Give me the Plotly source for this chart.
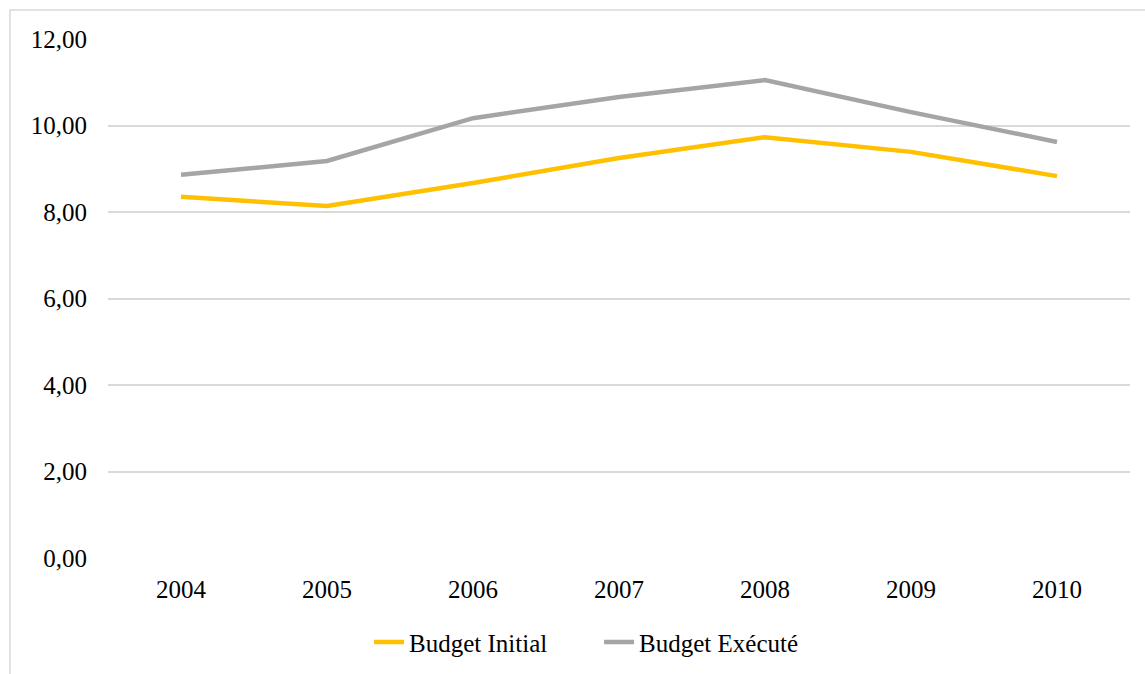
import plotly.graph_objects as go

years = ["2004", "2005", "2006", "2007", "2008", "2009", "2010"]
budget_initial = [8.35, 8.14, 8.67, 9.25, 9.73, 9.39, 8.83]
budget_execute = [8.86, 9.18, 10.17, 10.66, 11.05, 10.31, 9.62]

fig = go.Figure()
fig.add_trace(go.Scatter(x=years, y=budget_initial, mode="lines", name="Budget Initial",
                         line=dict(color="#ffc000", width=4.5)))
fig.add_trace(go.Scatter(x=years, y=budget_execute, mode="lines", name="Budget Exécuté",
                         line=dict(color="#a5a5a5", width=4.5)))

# outer chart border (Excel style)
fig.add_shape(type="rect", xref="paper", yref="paper",
              x0=-0.0959, y0=-0.235, x1=1.02, y1=1.0559,
              line=dict(color="#d9d9d9", width=1.5), layer="below")

fig.update_layout(
    width=1145, height=674,
    margin=dict(l=108, r=15, t=39, b=116),
    paper_bgcolor="white", plot_bgcolor="white",
    font=dict(family="Liberation Serif", size=25, color="black"),
    showlegend=True,
    legend=dict(orientation="h", x=0.4805, xanchor="center",
                yref="container", y=0.047, yanchor="middle",
                font=dict(size=25), tracegroupgap=0, entrywidth=185),
    xaxis=dict(type="category", range=[-0.5, 6.5], showgrid=False, showline=False,
               ticks="", ticklabelstandoff=14),
    yaxis=dict(range=[0, 12], dtick=2, tickformat=".2f",
               showgrid=True, gridcolor="#d9d9d9", gridwidth=1.5, zeroline=False,
               ticks="", ticklabelstandoff=20),
    separators=", ",
)

fig.write_html("out.html", config={"displayModeBar": False},
               post_script="document.body.style.margin='0px';")
